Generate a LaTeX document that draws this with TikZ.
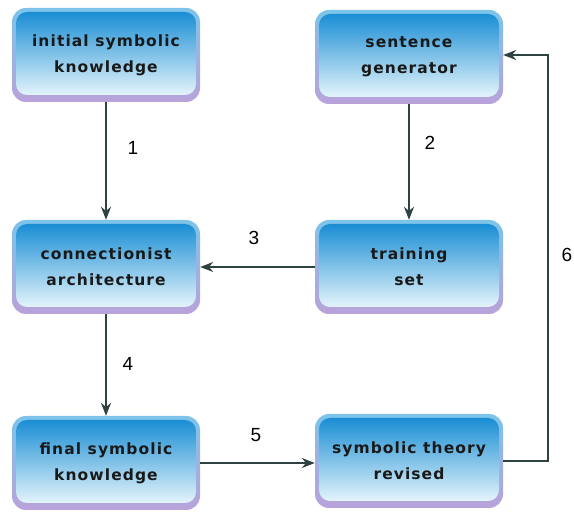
\documentclass[tikz,border=0pt]{standalone}
\usepackage{fontspec}
\setmainfont{DejaVu Sans}
\newfontfamily\numfont{Liberation Sans}
\newfontfamily\boxfont[LetterSpace=7]{DejaVu Sans}
\usetikzlibrary{arrows.meta}
\definecolor{edgeblue}{HTML}{7CC4EA}
\definecolor{lav}{HTML}{B9A2DA}
\definecolor{topblue}{HTML}{1A8ED4}
\definecolor{botblue}{HTML}{E4F4FB}
\definecolor{linecol}{HTML}{2F4242}
\tikzset{
  x=1pt,y=-1pt,
  boxouter/.style={rounded corners=14pt, top color=edgeblue, bottom color=lav, draw=none},
  boxinner/.style={rounded corners=11pt, top color=topblue, bottom color=botblue, draw=none},
  lbl/.style={font=\boxfont\bfseries\fontsize{15.5}{26}\selectfont, align=center, text=black!90},
  num/.style={font=\numfont\fontsize{19}{22}\selectfont, text=black},
  conn/.style={draw=linecol, line width=1.8pt, -{Stealth[length=13pt,width=10pt]}}
}
\newcommand{\mybox}[4]{% name, cx, cy, text
  \path[boxouter] (#2-94,#3-47) rectangle (#2+94,#3+47);
  \path[boxinner] (#2-90,#3-43) rectangle (#2+90,#3+40);
  \node[lbl, minimum width=188pt, minimum height=94pt] (#1) at (#2,#3) {#4};
}
\begin{document}
\begin{tikzpicture}
\useasboundingbox (0,0) rectangle (574,513);
\mybox{isk}{106}{55}{initial symbolic\\knowledge}
\mybox{sg}{409}{57}{sentence\\generator}
\mybox{ca}{106}{267}{connectionist\\architecture}
\mybox{ts}{409}{267}{training\\set}
\mybox{fsk}{106}{463}{final symbolic\\knowledge}
\mybox{str}{409}{461}{symbolic theory\\revised}
\draw[conn] (isk.south) -- (ca.north);
\draw[conn] (sg.south) -- (ts.north);
\draw[conn] (ts.west) -- (ca.east);
\draw[conn] (ca.south) -- (fsk.north);
\draw[conn] (fsk.east) -- (str.west |- fsk.east);
\coordinate (c1) at (548,461);
\coordinate (c2) at (548,55);
\draw[conn] (str.east) -- (c1) -- (c2) -- (sg.east |- c2);
\node[num] (n1) at (133,148) {1};
\node[num] (n2) at (430,143) {2};
\node[num] (n3) at (254,238) {3};
\node[num] (n4) at (128,364) {4};
\node[num] (n5) at (256,435) {5};
\node[num] (n6) at (567,255) {6};
\end{tikzpicture}
\end{document}
